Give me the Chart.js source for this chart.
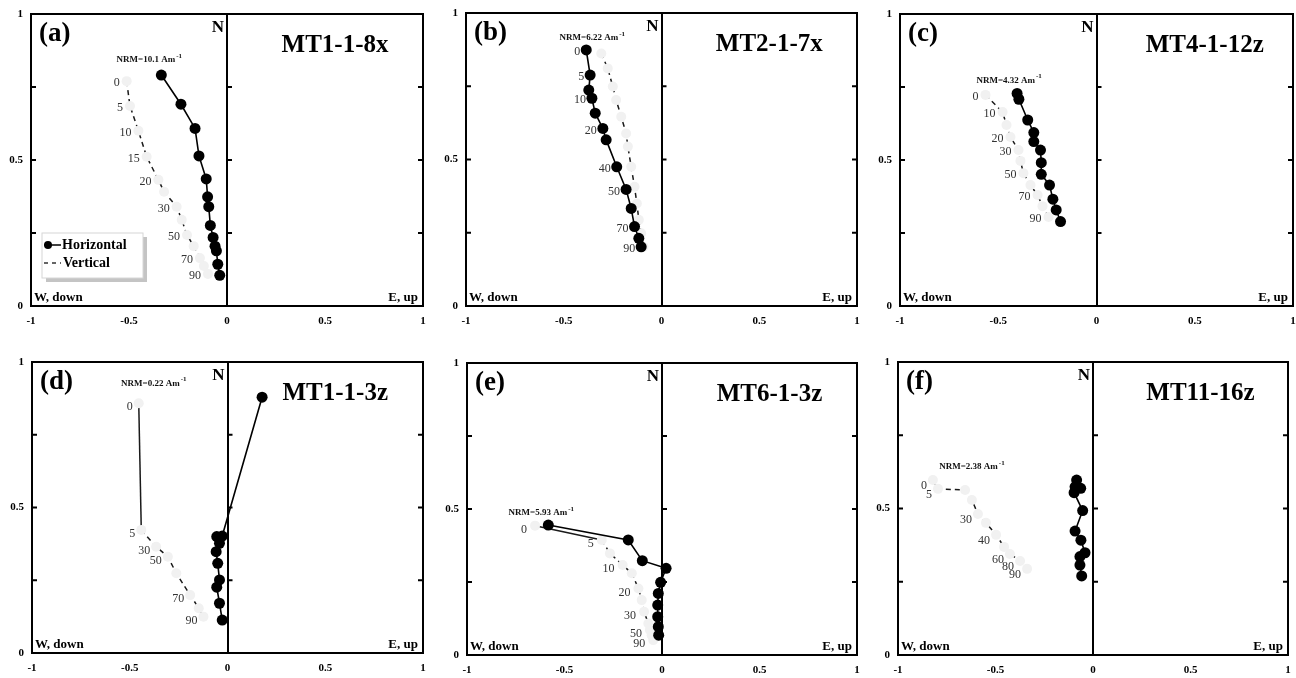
<!DOCTYPE html>
<html lang="en">
<head>
  <meta charset="UTF-8">
  <title>Orthogonal vector plots</title>
  <script src="https://cdn.jsdelivr.net/npm/chart.js"></script>
  <style>
    body {
      margin: 0;
      background: #fff;
      width: 1296px;
      height: 678px;
      position: relative;
      overflow: hidden;
    }
    canvas { position: absolute; }
  </style>
</head>
<body>
  <script>
    // ---- data ----
    const panelLetters = ['(a)', '(b)', '(c)', '(d)', '(e)', '(f)'];
    const sampleNames = ['MT1-1-8x', 'MT2-1-7x', 'MT4-1-12z', 'MT1-1-3z', 'MT6-1-3z', 'MT11-16z'];
    const nrmValues = ['10.1', '6.22', '4.32', '0.22', '5.93', '2.38'];

    // (a) MT1-1-8x
    const aHx = [-0.335, -0.235, -0.163, -0.143, -0.106, -0.099, -0.093, -0.085, -0.071, -0.061, -0.054, -0.047, -0.037];
    const aHy = [0.791, 0.691, 0.608, 0.514, 0.435, 0.374, 0.340, 0.276, 0.235, 0.205, 0.189, 0.143, 0.105];
    const aVx = [-0.512, -0.495, -0.452, -0.410, -0.350, -0.321, -0.257, -0.231, -0.204, -0.170, -0.138, -0.118, -0.097];
    const aVy = [0.770, 0.685, 0.600, 0.511, 0.432, 0.391, 0.340, 0.295, 0.243, 0.205, 0.164, 0.137, 0.110];
    const aSteps = ['0', '5', '10', '15', '20', '30', '50', '70', '90'];
    const aStepIdx = [0, 1, 2, 3, 4, 6, 8, 10, 12];

    // (b) MT2-1-7x
    const bHx = [-0.385, -0.365, -0.372, -0.356, -0.339, -0.300, -0.283, -0.229, -0.181, -0.155, -0.138, -0.116, -0.104];
    const bHy = [0.874, 0.788, 0.737, 0.709, 0.658, 0.606, 0.567, 0.475, 0.398, 0.333, 0.271, 0.231, 0.202];
    const bVx = [-0.308, -0.275, -0.249, -0.232, -0.206, -0.181, -0.172, -0.155, -0.138, -0.126, -0.116, -0.104, -0.092];
    const bVy = [0.862, 0.811, 0.749, 0.703, 0.646, 0.589, 0.544, 0.475, 0.407, 0.350, 0.294, 0.248, 0.202];
    const bSteps = ['0', '5', '10', '20', '40', '50', '70', '90'];
    const bStepIdx = [0, 1, 3, 5, 7, 8, 10, 12];

    // (c) MT4-1-12z
    const cHx = [-0.404, -0.395, -0.350, -0.319, -0.319, -0.285, -0.281, -0.281, -0.239, -0.222, -0.205, -0.183];
    const cHy = [0.728, 0.708, 0.637, 0.594, 0.563, 0.534, 0.491, 0.451, 0.414, 0.366, 0.329, 0.289];
    const cVx = [-0.565, -0.478, -0.458, -0.438, -0.397, -0.387, -0.372, -0.336, -0.300, -0.275, -0.244];
    const cVy = [0.723, 0.664, 0.620, 0.579, 0.534, 0.497, 0.455, 0.414, 0.380, 0.342, 0.305];
    const cSteps = ['0', '10', '20', '30', '50', '70', '90'];
    const cStepIdx = [0, 1, 3, 4, 6, 8, 10];

    // (d) MT1-1-3z
    const dHx = [0.177, -0.027, -0.055, -0.041, -0.058, -0.050, -0.041, -0.055, -0.041, -0.027];
    const dHy = [0.879, 0.402, 0.400, 0.377, 0.348, 0.308, 0.251, 0.226, 0.171, 0.113];
    const dVx = [-0.454, -0.441, -0.365, -0.305, -0.262, -0.191, -0.147, -0.123];
    const dVy = [0.858, 0.423, 0.365, 0.331, 0.274, 0.199, 0.154, 0.125];
    const dSteps = ['0', '5', '30', '50', '70', '90'];
    const dStepIdx = [0, 1, 2, 3, 5, 7];

    // (e) MT6-1-3z
    const eHx = [-0.583, -0.173, -0.101, 0.021, -0.007, -0.019, -0.022, -0.022, -0.019, -0.017];
    const eHy = [0.445, 0.394, 0.323, 0.297, 0.249, 0.211, 0.171, 0.131, 0.097, 0.068];
    const eVx = [-0.651, -0.309, -0.267, -0.202, -0.155, -0.121, -0.104, -0.092, -0.070, -0.062, -0.053, -0.045];
    const eVy = [0.443, 0.394, 0.348, 0.308, 0.280, 0.228, 0.188, 0.148, 0.108, 0.086, 0.068, 0.051];
    const eSteps = ['0', '5', '10', '20', '30', '50', '90'];
    const eStepIdx = [0, 1, 3, 5, 7, 9, 11];

    // (f) MT11-16z
    const fHx = [-0.084, -0.092, -0.063, -0.097, -0.053, -0.092, -0.062, -0.041, -0.067, -0.067, -0.058];
    const fHy = [0.597, 0.574, 0.569, 0.554, 0.493, 0.423, 0.392, 0.349, 0.336, 0.307, 0.270];
    const fVx = [-0.821, -0.795, -0.656, -0.621, -0.590, -0.549, -0.497, -0.456, -0.426, -0.374, -0.338];
    const fVy = [0.597, 0.567, 0.563, 0.529, 0.481, 0.451, 0.410, 0.369, 0.345, 0.321, 0.294];
    const fSteps = ['0', '5', '30', '40', '60', '80', '90'];
    const fStepIdx = [0, 1, 4, 6, 8, 9, 10];

    // ---- layout / style per panel ----
    const SERIF = '"Liberation Serif", "Times New Roman", serif';
    const panels = [
      { area: [31, 14, 423, 306], h: [aHx, aHy], v: [aVx, aVy], steps: aSteps, idx: aStepIdx, stepOn: 'v', sdx: -7, sdy: 2,
        nrmOn: 'h', ndx: -12, ndy: -15, legend: true },
      { area: [466, 13, 857, 306], h: [bHx, bHy], v: [bVx, bVy], steps: bSteps, idx: bStepIdx, stepOn: 'h', sdx: -6, sdy: 2,
        nrmOn: 'h', ndx: 6, ndy: -12 },
      { area: [900, 14, 1293, 306], h: [cHx, cHy], v: [cVx, cVy], steps: cSteps, idx: cStepIdx, stepOn: 'v', sdx: -7, sdy: 2,
        nrmOn: 'h', ndx: -8, ndy: -13 },
      { area: [32, 362, 423, 653], h: [dHx, dHy], v: [dVx, dVy], steps: dSteps, idx: dStepIdx, stepOn: 'v', sdx: -6, sdy: 4,
        nrmOn: 'v', ndx: 15, ndy: -20, solidFirst: true },
      { area: [467, 363, 857, 655], h: [eHx, eHy], v: [eVx, eVy], steps: eSteps, idx: eStepIdx, stepOn: 'v', sdx: -8, sdy: 4,
        nrmOn: 'h', ndx: -7, ndy: -12, solidFirst: true },
      { area: [898, 362, 1288, 655], h: [fHx, fHy], v: [fVx, fVy], steps: fSteps, idx: fStepIdx, stepOn: 'v', sdx: -6, sdy: 6,
        nrmOn: 'v', ndx: 39, ndy: -13 }
    ];

    const PAD_L = 31, PAD_T = 14, PAD_R = 8, PAD_B = 24;

    function toPoints(xs, ys) {
      return xs.map((x, i) => ({ x: x, y: ys[i] }));
    }

    const zijPlugin = {
      id: 'zij',
      afterDatasetsDraw(chart, args, o) {
        const ctx = chart.ctx;
        const a = chart.chartArea;
        const xs = chart.scales.x, ys = chart.scales.y;
        const x0 = xs.getPixelForValue(0);
        ctx.save();

        // frame + inward ticks
        ctx.strokeStyle = '#000';
        ctx.lineWidth = 2;
        ctx.strokeRect(a.left, a.top, a.right - a.left, a.bottom - a.top);
        [0.25, 0.5, 0.75].forEach(v => {
          const py = ys.getPixelForValue(v);
          ctx.beginPath();
          ctx.moveTo(a.left, py); ctx.lineTo(a.left + 5, py);
          ctx.moveTo(x0, py); ctx.lineTo(x0 + 5, py);
          ctx.moveTo(a.right, py); ctx.lineTo(a.right - 5, py);
          ctx.stroke();
        });

        ctx.fillStyle = '#000';
        ctx.textBaseline = 'middle';

        // panel letter
        ctx.font = 'bold 27px ' + SERIF;
        ctx.textAlign = 'left';
        ctx.fillText(o.letter, a.left + 8, a.top + 20);

        // N
        ctx.font = 'bold 17px ' + SERIF;
        ctx.textAlign = 'right';
        ctx.fillText('N', x0 - 3, a.top + 14);

        // sample name
        ctx.font = 'bold 25px ' + SERIF;
        ctx.textAlign = 'center';
        ctx.fillText(o.name, (x0 + a.right) / 2 + 10, a.top + 32);

        // axis direction labels
        ctx.font = 'bold 13px ' + SERIF;
        ctx.textBaseline = 'alphabetic';
        ctx.textAlign = 'left';
        ctx.fillText('W, down', a.left + 3, a.bottom - 5);
        ctx.textAlign = 'right';
        ctx.fillText('E, up', a.right - 5, a.bottom - 5);

        // demagnetisation step labels
        const stepMeta = chart.getDatasetMeta(o.stepOn === 'h' ? 0 : 1);
        ctx.font = '12px ' + SERIF;
        ctx.fillStyle = '#333';
        ctx.textAlign = 'right';
        ctx.textBaseline = 'middle';
        o.idx.forEach((k, i) => {
          const el = stepMeta.data[k];
          if (!el) return;
          ctx.fillText(o.steps[i], el.x + o.sdx, el.y + o.sdy);
        });

        // NRM intensity
        const nMeta = chart.getDatasetMeta(o.nrmOn === 'h' ? 0 : 1);
        const p0 = nMeta.data[0];
        const main = 'NRM=' + o.nrm + ' Am';
        ctx.fillStyle = '#111';
        ctx.font = 'bold 9px ' + SERIF;
        const w1 = ctx.measureText(main).width;
        ctx.font = 'bold 7px ' + SERIF;
        const w2 = ctx.measureText('-1').width;
        const nx = p0.x + o.ndx - (w1 + w2 + 1) / 2;
        const ny = p0.y + o.ndy;
        ctx.textAlign = 'left';
        ctx.font = 'bold 9px ' + SERIF;
        ctx.fillText(main, nx, ny);
        ctx.font = 'bold 7px ' + SERIF;
        ctx.fillText('-1', nx + w1 + 1, ny - 4);

        // legend (panel a only)
        if (o.legend) {
          const lx = a.left + 11, ly = a.bottom - 73, lw = 101, lh = 45;
          ctx.fillStyle = '#c4c4c4';
          ctx.fillRect(lx + 4, ly + 4, lw, lh);
          ctx.fillStyle = '#fff';
          ctx.fillRect(lx, ly, lw, lh);
          ctx.strokeStyle = '#d6d6d6';
          ctx.lineWidth = 1;
          ctx.strokeRect(lx, ly, lw, lh);

          ctx.strokeStyle = '#000';
          ctx.lineWidth = 1.5;
          ctx.beginPath();
          ctx.moveTo(lx + 2, ly + 12); ctx.lineTo(lx + 19, ly + 12);
          ctx.stroke();
          ctx.fillStyle = '#000';
          ctx.beginPath();
          ctx.arc(lx + 6, ly + 12, 4, 0, Math.PI * 2);
          ctx.fill();

          ctx.setLineDash([4, 4]);
          ctx.strokeStyle = '#333';
          ctx.beginPath();
          ctx.moveTo(lx + 2, ly + 30); ctx.lineTo(lx + 19, ly + 30);
          ctx.stroke();
          ctx.setLineDash([]);

          ctx.fillStyle = '#000';
          ctx.font = 'bold 14px ' + SERIF;
          ctx.textAlign = 'left';
          ctx.textBaseline = 'middle';
          ctx.fillText('Horizontal', lx + 20, ly + 12);
          ctx.fillText('Vertical', lx + 21, ly + 30);
        }
        ctx.restore();
      }
    };

    panels.forEach((p, i) => {
      const [L, T, R, B] = p.area;
      const canvas = document.createElement('canvas');
      const cw = R - L + PAD_L + PAD_R;
      const ch = B - T + PAD_T + PAD_B;
      canvas.width = cw;
      canvas.height = ch;
      canvas.style.left = (L - PAD_L) + 'px';
      canvas.style.top = (T - PAD_T) + 'px';
      canvas.style.width = cw + 'px';
      canvas.style.height = ch + 'px';
      document.body.appendChild(canvas);

      const tickFont = { family: SERIF, size: 11, weight: 'bold' };

      new Chart(canvas.getContext('2d'), {
        type: 'scatter',
        data: {
          datasets: [
            {
              label: 'Horizontal',
              data: toPoints(p.h[0], p.h[1]),
              showLine: true,
              borderColor: '#000',
              borderWidth: 1.6,
              backgroundColor: '#000',
              pointBackgroundColor: '#000',
              pointBorderColor: '#000',
              pointRadius: 5.5,
              pointBorderWidth: 0
            },
            {
              label: 'Vertical',
              data: toPoints(p.v[0], p.v[1]),
              showLine: true,
              borderColor: '#1a1a1a',
              borderWidth: 1.5,
              borderDash: [5, 4],
              segment: {
                borderDash: c => (p.solidFirst && c.p0DataIndex === 0) ? [] : [5, 4]
              },
              pointBackgroundColor: '#f1f1f1',
              pointBorderColor: '#f1f1f1',
              pointBorderWidth: 0,
              pointRadius: 5
            }
          ]
        },
        options: {
          responsive: false,
          animation: false,
          events: [],
          layout: { padding: { left: 0, top: PAD_T, right: PAD_R, bottom: 0 } },
          scales: {
            x: {
              type: 'linear',
              min: -1,
              max: 1,
              afterFit: s => { s.height = PAD_B; s.paddingLeft = 0; s.paddingRight = 0; },
              ticks: {
                stepSize: 0.5,
                color: '#000',
                font: tickFont,
                padding: 9,
                maxRotation: 0,
                callback: v => String(v)
              },
              grid: {
                drawTicks: false,
                lineWidth: 2,
                color: c => (c.tick && c.tick.value === 0) ? '#000' : 'rgba(0,0,0,0)'
              },
              border: { display: false }
            },
            y: {
              type: 'linear',
              min: 0,
              max: 1,
              afterFit: s => { s.width = PAD_L; s.paddingTop = 0; s.paddingBottom = 0; },
              ticks: {
                stepSize: 0.25,
                color: '#000',
                font: tickFont,
                padding: 0,
                callback: v => (v === 0.25 || v === 0.75) ? '' : String(v)
              },
              grid: { display: false },
              border: { display: false }
            }
          },
          plugins: {
            legend: { display: false },
            tooltip: { enabled: false },
            zij: {
              letter: panelLetters[i],
              name: sampleNames[i],
              nrm: nrmValues[i],
              steps: p.steps,
              idx: p.idx,
              stepOn: p.stepOn,
              sdx: p.sdx,
              sdy: p.sdy,
              nrmOn: p.nrmOn,
              ndx: p.ndx,
              ndy: p.ndy,
              legend: !!p.legend
            }
          }
        },
        plugins: [zijPlugin]
      });
    });
  </script>
</body>
</html>
